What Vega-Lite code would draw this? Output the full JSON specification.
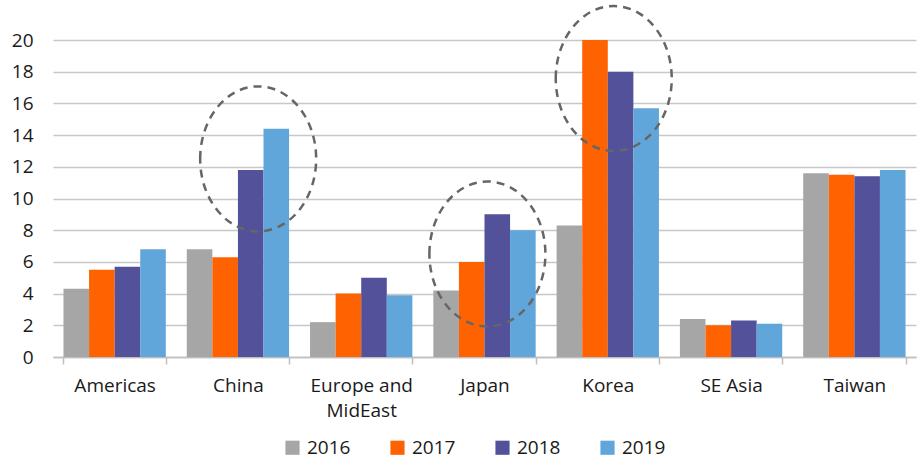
{
  "$schema": "https://vega.github.io/schema/vega-lite/v6.json",
  "width": 863,
  "height": 317,
  "autosize": {"type": "none"},
  "padding": {"left": 53, "top": 40, "right": 1, "bottom": 104},
  "background": "white",
  "config": {
    "view": {"stroke": null},
    "font": "Open Sans",
    "axis": {"labelFont": "Open Sans", "labelColor": "#1a1a1a", "labelFontSize": 19},
    "legend": {"labelFont": "Open Sans", "labelColor": "#1a1a1a", "labelFontSize": 19}
  },
  "datasets": {
    "bars": [
      {"region": "Americas", "year": "2016", "value": 4.3},
      {"region": "Americas", "year": "2017", "value": 5.5},
      {"region": "Americas", "year": "2018", "value": 5.7},
      {"region": "Americas", "year": "2019", "value": 6.8},
      {"region": "China", "year": "2016", "value": 6.8},
      {"region": "China", "year": "2017", "value": 6.3},
      {"region": "China", "year": "2018", "value": 11.8},
      {"region": "China", "year": "2019", "value": 14.4},
      {"region": "Europe and MidEast", "year": "2016", "value": 2.2},
      {"region": "Europe and MidEast", "year": "2017", "value": 4.0},
      {"region": "Europe and MidEast", "year": "2018", "value": 5.0},
      {"region": "Europe and MidEast", "year": "2019", "value": 3.9},
      {"region": "Japan", "year": "2016", "value": 4.2},
      {"region": "Japan", "year": "2017", "value": 6.0},
      {"region": "Japan", "year": "2018", "value": 9.0},
      {"region": "Japan", "year": "2019", "value": 8.0},
      {"region": "Korea", "year": "2016", "value": 8.3},
      {"region": "Korea", "year": "2017", "value": 20.0},
      {"region": "Korea", "year": "2018", "value": 18.0},
      {"region": "Korea", "year": "2019", "value": 15.7},
      {"region": "SE Asia", "year": "2016", "value": 2.4},
      {"region": "SE Asia", "year": "2017", "value": 2.0},
      {"region": "SE Asia", "year": "2018", "value": 2.3},
      {"region": "SE Asia", "year": "2019", "value": 2.1},
      {"region": "Taiwan", "year": "2016", "value": 11.6},
      {"region": "Taiwan", "year": "2017", "value": 11.5},
      {"region": "Taiwan", "year": "2018", "value": 11.4},
      {"region": "Taiwan", "year": "2019", "value": 11.8}
    ],
    "ellipses": [
      {"region": "China", "pos": 0.70, "center": 12.5},
      {"region": "Japan", "pos": 0.53, "center": 6.5},
      {"region": "Korea", "pos": 0.56, "center": 17.57}
    ]
  },
  "layer": [
    {
      "data": {"name": "bars"},
      "mark": {"type": "bar"},
      "encoding": {
        "x": {
          "field": "region", "type": "nominal", "sort": null,
          "scale": {"paddingInner": 0.17, "paddingOuter": 0.085},
          "axis": {
            "title": null, "labelAngle": 0, "labelPadding": 12,
            "domainColor": "#bfbfbf", "domainWidth": 1.5,
            "tickColor": "#bfbfbf", "tickWidth": 1.5, "tickSize": 7, "tickBand": "extent",
            "labelExpr": "datum.label == 'Europe and MidEast' ? ['Europe and', 'MidEast'] : datum.label",
            "labelLineHeight": 25
          }
        },
        "xOffset": {"field": "year", "type": "nominal"},
        "y": {
          "field": "value", "type": "quantitative",
          "scale": {"domain": [0, 20], "nice": false},
          "axis": {
            "title": null, "values": [0,2,4,6,8,10,12,14,16,18,20],
            "labelOverlap": false,
            "domain": false, "ticks": false, "labelPadding": 20,
            "gridColor": "#c8c8c8", "gridWidth": 1.5
          }
        },
        "color": {
          "field": "year", "type": "nominal",
          "scale": {"domain": ["2016", "2017", "2018", "2019"], "range": ["#a6a6a6", "#ff6200", "#525199", "#60a6da"]},
          "legend": {
            "title": null, "orient": "none", "direction": "horizontal",
            "legendX": 230, "legendY": 398,
            "symbolType": "square", "symbolSize": 200, "symbolStrokeWidth": 0,
            "columnPadding": 37, "labelOffset": 5
          }
        }
      }
    },
    {
      "data": {"name": "ellipses"},
      "mark": {
        "type": "point", "filled": false, "clip": false,
        "shape": "M -1 0 A 1 1.25 0 1 1 1 0 A 1 1.25 0 1 1 -1 0 Z",
        "size": 13456, "stroke": "#666666", "strokeWidth": 2.5,
        "strokeDash": [8, 6], "opacity": 1
      },
      "encoding": {
        "x": {"field": "region", "type": "nominal", "sort": null},
        "xOffset": {"field": "pos", "type": "quantitative", "scale": {"domain": [0, 1], "range": [0, 102]}},
        "y": {
          "field": "center", "type": "quantitative",
          "axis": {
            "title": null, "values": [0,2,4,6,8,10,12,14,16,18,20],
            "labelOverlap": false,
            "domain": false, "ticks": false, "labelPadding": 20,
            "gridColor": "#c8c8c8", "gridWidth": 1.5
          }
        }
      }
    }
  ],
  "resolve": {"scale": {"xOffset": "independent"}}
}
